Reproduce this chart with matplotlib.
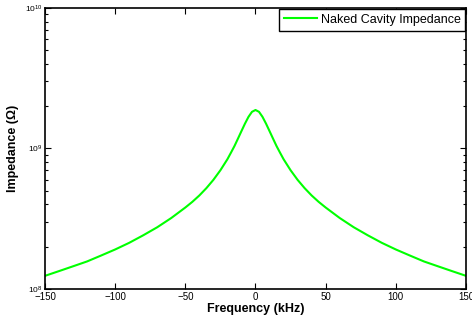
import numpy as np
import matplotlib
matplotlib.use('Agg')
import matplotlib.pyplot as plt

# values (kHz, Ohm)
freq_khz = [-150, -140, -130, -120, -110, -100, -90, -80, -70, -60, -50, -45, -40, -35, -30,
            -25, -20, -17.5, -15, -12.5, -10, -7.5, -5, -2.5, 0,
            2.5, 5, 7.5, 10, 12.5, 15, 17.5, 20, 25, 30, 35, 40, 45, 50,
            60, 70, 80, 90, 100, 110, 120, 130, 140, 150]
impedance = [1.24e8, 1.34e8, 1.45e8, 1.57e8, 1.73e8, 1.91e8, 2.13e8, 2.41e8, 2.75e8, 3.20e8,
             3.80e8, 4.17e8, 4.63e8, 5.22e8, 5.98e8,
             7.00e8, 8.39e8, 9.33e8, 1.04e9, 1.175e9, 1.33e9, 1.503e9, 1.679e9, 1.824e9, 1.879e9,
             1.824e9, 1.679e9, 1.503e9, 1.33e9, 1.175e9, 1.04e9, 9.33e8, 8.39e8, 7.00e8, 5.98e8,
             5.22e8, 4.63e8, 4.17e8, 3.80e8,
             3.20e8, 2.75e8, 2.41e8, 2.13e8, 1.91e8, 1.73e8, 1.57e8, 1.45e8, 1.34e8, 1.24e8]
xticks = [-150, -100, -50, 0, 50, 100, 150]

plt.rcParams['font.family'] = ['Liberation Sans', 'DejaVu Sans']

fig = plt.figure(figsize=(4.72, 3.2), dpi=100)
ax = fig.add_axes([0.0953, 0.097, 0.892, 0.878])
ax.plot(freq_khz, impedance, color=(0, 1, 0), linewidth=1.5, label='Naked Cavity Impedance')
ax.set_yscale('log')
ax.set_xlim(-150, 150)
ax.set_ylim(1e8, 1e10)
ax.set_xticks(xticks)
ax.set_xticklabels([str(t).replace('-', '\u2212') for t in xticks])
ax.tick_params(which='both', direction='in', top=True, right=True, labelsize=7, width=0.8)
ax.tick_params(which='major', length=4, pad=2)
ax.tick_params(which='minor', length=2)
ax.tick_params(axis='y', labelsize=6)
for s in ax.spines.values():
    s.set_linewidth(1.2)
ax.set_xlabel('Frequency (kHz)', fontsize=9, fontweight='bold', labelpad=1)
ax.set_ylabel('Impedance (\u03a9)', fontsize=9, fontweight='bold', labelpad=4)
leg = ax.legend(loc='upper right', fontsize=9, fancybox=False, framealpha=1,
                edgecolor='black', borderaxespad=0.05, borderpad=0.4, handlelength=2.6,
                handletextpad=0.3)
leg.get_frame().set_linewidth(1.0)
fig.savefig('out.png', dpi=100)
